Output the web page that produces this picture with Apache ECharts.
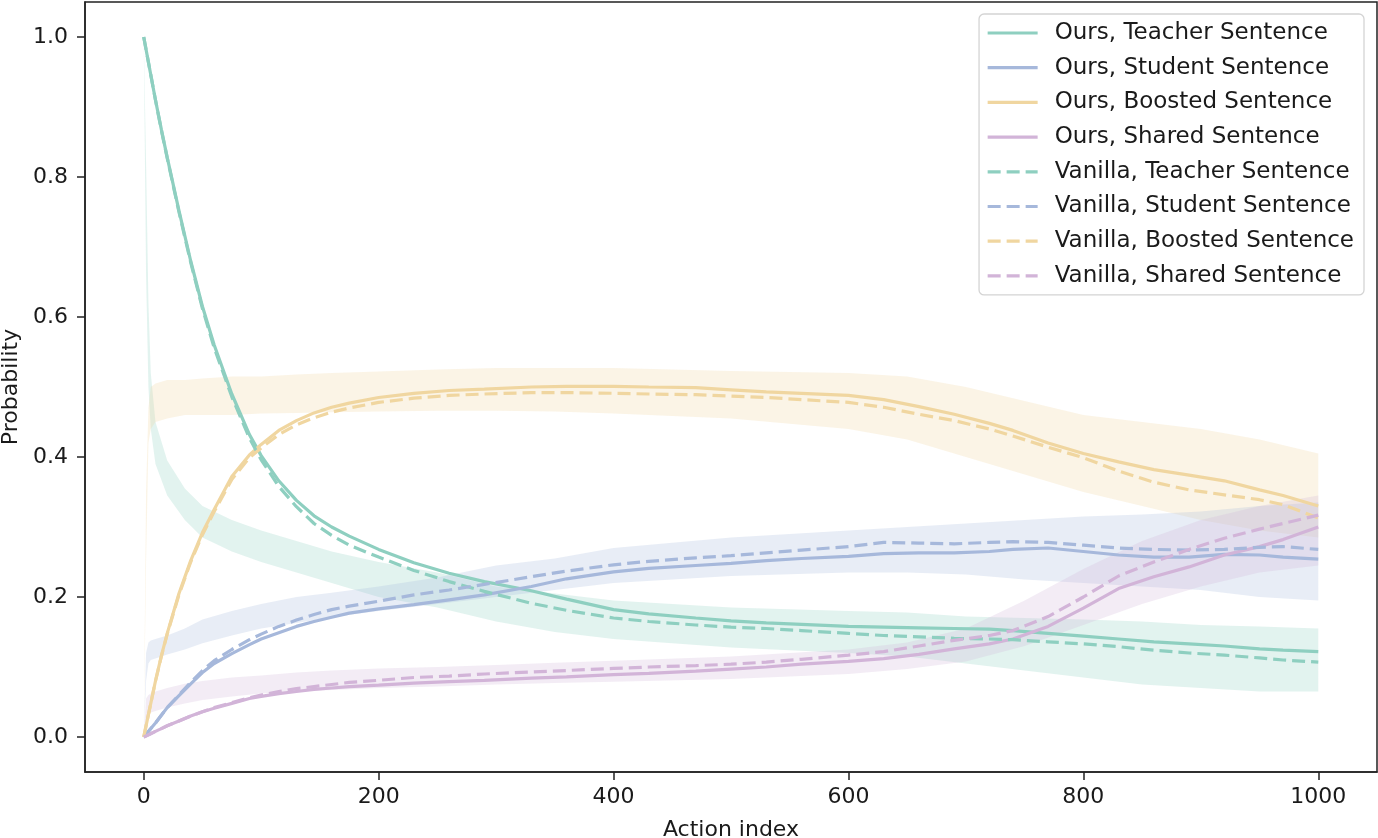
<!DOCTYPE html>
<html><head><meta charset="utf-8">
<script src="https://cdn.jsdelivr.net/npm/echarts@6/dist/echarts.min.js"></script>
<style>html,body{margin:0;padding:0;background:#fff}#c{width:1378px;height:838px}</style>
</head><body><div id="c"></div>
<script>
// ---------- data ----------
const xs = [0,5,10,15,20,30,40,50,60,75,90,100,115,130,145,160,175,200,230,260,290,330,360,400,430,470,500,530,560,600,630,660,690,720,740,770,800,830,860,890,920,950,970,1000];

const oursTeacher = [1.0,0.955,0.91,0.868,0.828,0.752,0.68,0.615,0.56,0.49,0.432,0.402,0.366,0.338,0.316,0.3,0.287,0.268,0.249,0.234,0.222,0.209,0.197,0.182,0.176,0.17,0.166,0.163,0.161,0.158,0.157,0.156,0.155,0.154,0.152,0.148,0.144,0.14,0.136,0.133,0.13,0.126,0.124,0.122];
const oursStudent = [0,0.01,0.02,0.031,0.042,0.059,0.076,0.092,0.105,0.119,0.132,0.14,0.149,0.158,0.165,0.171,0.177,0.183,0.189,0.196,0.203,0.215,0.226,0.236,0.241,0.245,0.248,0.252,0.255,0.258,0.262,0.263,0.263,0.265,0.268,0.27,0.265,0.26,0.257,0.257,0.261,0.26,0.257,0.254];
const oursBoosted = [0,0.04,0.08,0.116,0.148,0.205,0.252,0.292,0.325,0.372,0.403,0.418,0.438,0.452,0.463,0.471,0.477,0.485,0.491,0.495,0.497,0.5,0.501,0.501,0.5,0.499,0.496,0.493,0.491,0.488,0.482,0.472,0.461,0.448,0.438,0.42,0.405,0.393,0.382,0.374,0.366,0.353,0.345,0.33];
const oursShared = [0,0.004,0.008,0.012,0.016,0.023,0.03,0.036,0.041,0.048,0.055,0.058,0.062,0.065,0.068,0.07,0.072,0.074,0.077,0.079,0.081,0.084,0.086,0.089,0.091,0.094,0.097,0.1,0.104,0.108,0.112,0.118,0.126,0.133,0.14,0.158,0.184,0.212,0.229,0.243,0.26,0.272,0.282,0.3];

const vanTeacher = [1.0,0.955,0.91,0.867,0.827,0.75,0.678,0.612,0.556,0.486,0.427,0.396,0.358,0.329,0.305,0.288,0.274,0.257,0.238,0.222,0.208,0.191,0.181,0.17,0.165,0.16,0.157,0.155,0.152,0.148,0.145,0.143,0.141,0.14,0.139,0.136,0.133,0.129,0.124,0.12,0.117,0.113,0.11,0.107];
const vanStudent = [0,0.01,0.02,0.031,0.042,0.06,0.078,0.095,0.109,0.125,0.139,0.147,0.158,0.167,0.175,0.182,0.187,0.194,0.203,0.21,0.218,0.229,0.237,0.246,0.251,0.256,0.259,0.263,0.267,0.272,0.278,0.277,0.276,0.278,0.279,0.278,0.274,0.27,0.268,0.267,0.268,0.271,0.272,0.268];
const vanBoosted = [0,0.04,0.08,0.115,0.147,0.203,0.25,0.289,0.322,0.368,0.399,0.413,0.432,0.446,0.456,0.464,0.47,0.478,0.484,0.488,0.49,0.492,0.492,0.491,0.49,0.489,0.487,0.485,0.482,0.478,0.471,0.461,0.452,0.44,0.43,0.414,0.399,0.38,0.364,0.353,0.346,0.339,0.332,0.313];
const vanShared = [0,0.004,0.008,0.012,0.016,0.023,0.03,0.036,0.042,0.049,0.056,0.06,0.065,0.069,0.072,0.075,0.078,0.081,0.085,0.087,0.09,0.093,0.095,0.098,0.1,0.102,0.104,0.107,0.111,0.117,0.122,0.13,0.138,0.145,0.152,0.172,0.2,0.23,0.25,0.268,0.284,0.297,0.305,0.317];

// faint raw (unsmoothed) traces, read as lower / upper envelope of the noise
const rawX = [0,2,4,6,10,20,35,50,75,100,130,160,200,250,300,350,400,500,600,650,700,750,800,850,900,950,1000];
const rawTeacherLow  = [1.0,0.66,0.5,0.44,0.39,0.345,0.31,0.285,0.265,0.25,0.235,0.22,0.2,0.185,0.165,0.15,0.14,0.128,0.12,0.115,0.105,0.095,0.085,0.075,0.07,0.065,0.065];
const rawTeacherHigh = [1.0,0.82,0.62,0.52,0.45,0.395,0.355,0.33,0.31,0.295,0.28,0.265,0.25,0.235,0.215,0.205,0.195,0.185,0.18,0.178,0.172,0.17,0.168,0.165,0.16,0.158,0.155];
const rawBoostedLow  = [0,0.25,0.42,0.44,0.45,0.455,0.46,0.46,0.46,0.462,0.463,0.464,0.465,0.466,0.466,0.465,0.462,0.455,0.44,0.425,0.4,0.375,0.35,0.33,0.31,0.295,0.285];
const rawBoostedHigh = [0,0.35,0.47,0.5,0.505,0.51,0.51,0.512,0.515,0.515,0.518,0.52,0.522,0.525,0.527,0.527,0.527,0.523,0.52,0.515,0.5,0.48,0.46,0.45,0.44,0.425,0.405];
const rawStudentLow  = [0,0.08,0.105,0.11,0.112,0.118,0.125,0.134,0.145,0.155,0.163,0.171,0.18,0.19,0.2,0.21,0.22,0.23,0.235,0.235,0.232,0.225,0.22,0.215,0.21,0.2,0.195];
const rawStudentHigh = [0,0.12,0.135,0.138,0.14,0.145,0.155,0.168,0.18,0.19,0.2,0.206,0.215,0.228,0.245,0.255,0.27,0.285,0.295,0.3,0.305,0.31,0.315,0.318,0.322,0.33,0.335];
const rawSharedLow   = [0,0.025,0.032,0.035,0.037,0.042,0.048,0.053,0.058,0.062,0.065,0.067,0.07,0.072,0.075,0.077,0.079,0.083,0.09,0.097,0.108,0.13,0.16,0.19,0.215,0.235,0.245];
const rawSharedHigh  = [0,0.055,0.06,0.062,0.065,0.07,0.076,0.08,0.085,0.088,0.092,0.095,0.098,0.1,0.103,0.106,0.109,0.115,0.125,0.135,0.155,0.195,0.24,0.28,0.31,0.33,0.345];

const xTicks = [0,200,400,600,800,1000];
const yTicks = [0,0.2,0.4,0.6,0.8,1.0];
const legendNames = ['Ours, Teacher Sentence','Ours, Student Sentence','Ours, Boosted Sentence','Ours, Shared Sentence','Vanilla, Teacher Sentence','Vanilla, Student Sentence','Vanilla, Boosted Sentence','Vanilla, Shared Sentence'];

// ---------- styles ----------
const C_TEACH = '#8ecfc0', C_STUD = '#a6b8db', C_BOOST = '#f0d6a0', C_SHARE = '#d2b4d8';
const FONT = 'DejaVu Sans';
const TXT = '#1a1a1a';

function pairs(xa, ya){ return xa.map((x,i)=>[x, ya[i]]); }
function band(low, high, color){
  return {
    type:'custom', silent:true, z:1, clip:true,
    data: rawX.map((x,i)=>[x, low[i], high[i]]),
    encode:{x:0, y:[1,2]},
    renderItem:function(params, api){
      if (params.dataIndex !== 0) return null;
      const pts = [];
      for (let i = 0; i < rawX.length; i++) pts.push(api.coord([rawX[i], high[i]]));
      for (let i = rawX.length - 1; i >= 0; i--) pts.push(api.coord([rawX[i], low[i]]));
      return {type:'polygon', shape:{points:pts}, style:{fill:color, opacity:0.26}};
    }
  };
}
function main(name, arr, color, dashed){
  return {type:'line', name:name, data:pairs(xs, arr), symbol:'none', smooth:false, z:3,
    itemStyle:{color:color},
    lineStyle:{color:color, width:3.2, type: dashed ? [13,6] : 'solid'}};
}

const series = [
  band(rawTeacherLow, rawTeacherHigh, C_TEACH),
  band(rawBoostedLow, rawBoostedHigh, C_BOOST),
  band(rawStudentLow, rawStudentHigh, C_STUD),
  band(rawSharedLow, rawSharedHigh, C_SHARE),
  main(legendNames[0], oursTeacher, C_TEACH, false),
  main(legendNames[1], oursStudent, C_STUD, false),
  main(legendNames[2], oursBoosted, C_BOOST, false),
  main(legendNames[3], oursShared, C_SHARE, false),
  main(legendNames[4], vanTeacher, C_TEACH, true),
  main(legendNames[5], vanStudent, C_STUD, true),
  main(legendNames[6], vanBoosted, C_BOOST, true),
  main(legendNames[7], vanShared, C_SHARE, true)
];

const chart = echarts.init(document.getElementById('c'), null, {renderer:'canvas'});
chart.setOption({
  animation:false,
  backgroundColor:'#ffffff',
  grid:{left:85, right:1, top:2, bottom:66, outerBoundsMode:'none', containLabel:false,
        show:true, borderColor:'#222', borderWidth:1.5, backgroundColor:'transparent'},
  legend:{
    data:legendNames, orient:'vertical', right:14, top:14,
    padding:[7,10,7,7], itemWidth:50, itemHeight:24, itemGap:10.7,
    itemStyle:{opacity:0},
    lineStyle:{width:3.2},
    textStyle:{fontFamily:FONT, fontSize:23, color:TXT, padding:[0,0,0,12], lineHeight:24},
    borderColor:'#d4d4d4', borderWidth:1.3, borderRadius:5, backgroundColor:'rgba(255,255,255,0.85)'
  },
  xAxis:{
    type:'value', min:-50, max:1050,
    splitLine:{show:false},
    axisLine:{show:true, onZero:false, lineStyle:{color:'#222', width:1.5}},
    axisTick:{show:true, customValues:xTicks, length:8, lineStyle:{color:'#222', width:1.5}},
    axisLabel:{customValues:xTicks, fontFamily:FONT, fontSize:22, color:TXT, margin:14,
      formatter:(v)=>String(Math.round(v))},
    name:'Action index', nameLocation:'middle', nameGap:47,
    nameTextStyle:{fontFamily:FONT, fontSize:22, color:TXT}
  },
  yAxis:{
    type:'value', min:-0.05, max:1.05,
    splitLine:{show:false},
    axisLine:{show:true, onZero:false, lineStyle:{color:'#222', width:1.5}},
    axisTick:{show:true, customValues:yTicks, length:8, lineStyle:{color:'#222', width:1.5}},
    axisLabel:{customValues:yTicks, fontFamily:FONT, fontSize:22, color:TXT, margin:17,
      formatter:(v)=>Number(v).toFixed(1)},
    name:'Probability', nameLocation:'middle', nameGap:60,
    nameTextStyle:{fontFamily:FONT, fontSize:22, color:TXT}
  },
  series:series
});
</script></body></html>
